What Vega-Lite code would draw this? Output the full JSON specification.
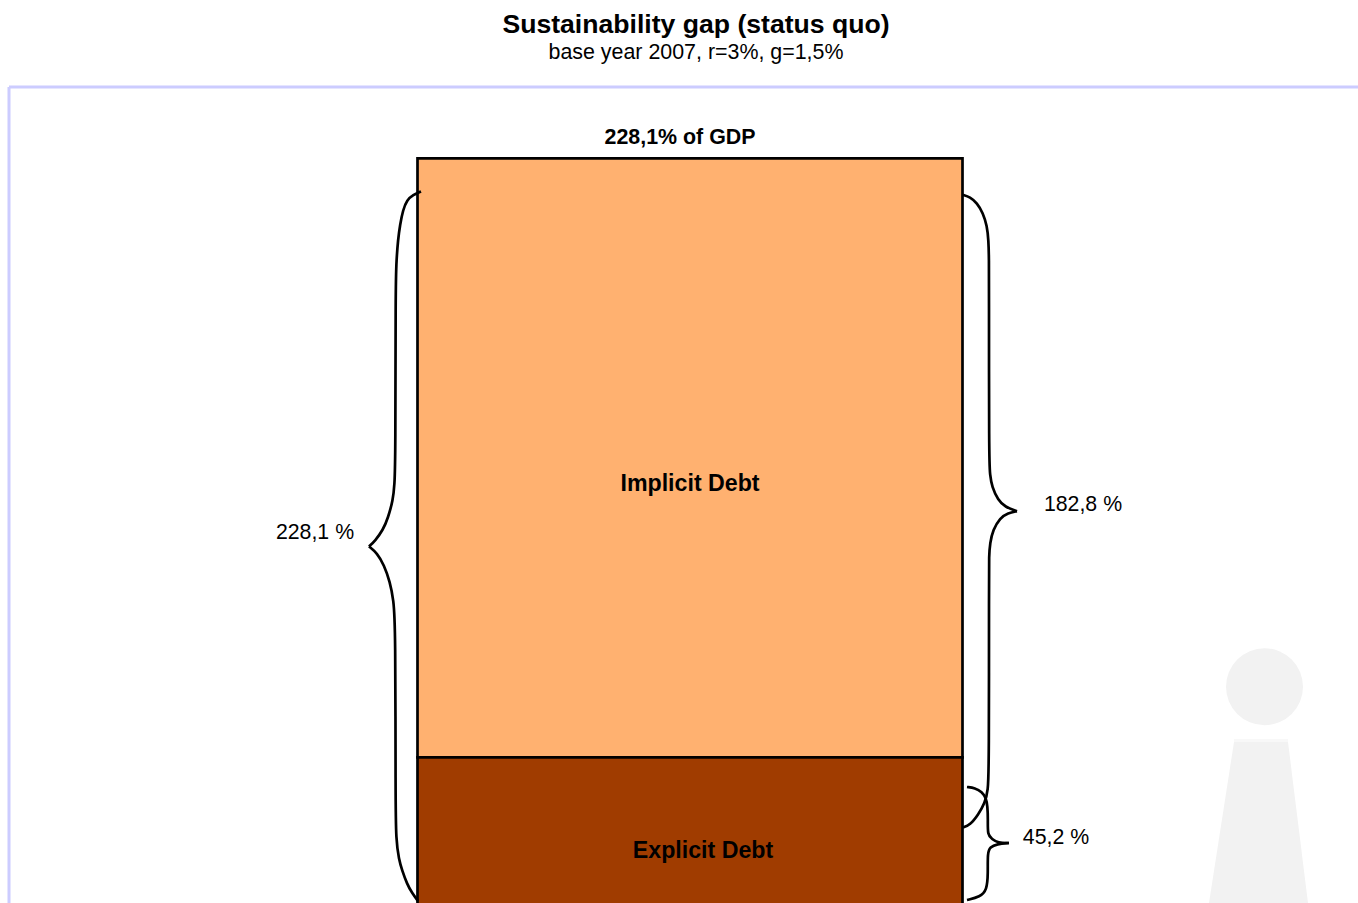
{
"$schema":"https://vega.github.io/schema/vega-lite/v6.json",
"width":1349,"height":816,
"autosize":{"type":"none"},
"padding":{"left":9,"top":87,"right":0,"bottom":0},
"background":"white",
"config":{"view":{"stroke":null},"font":"Liberation Sans"},
"title":{"text":"Sustainability gap (status quo)","subtitle":"base year 2007, r=3%, g=1,5%","anchor":"middle","frame":"group","dx":12.5,"offset":22,"font":"Liberation Sans","fontSize":26.6,"fontWeight":"bold","color":"black","subtitleFont":"Liberation Sans","subtitleFontSize":21.4,"subtitleColor":"black","subtitlePadding":4},
"datasets":{
"debt":[{"name":"Implicit Debt","from":45.2,"to":228.1},{"name":"Explicit Debt","from":0,"to":45.2}],
"band":[{"v":50.8,"x0":1234,"x1":1288},{"v":49.9,"x0":1234,"x1":1288}],
"mark":[{"v":49.9,"x0":1234,"x1":1288},{"v":0.76,"x0":1209,"x1":1308}],
"labels":[
{"label":"228,1 %","x":315,"y":113.75,"w":"normal"},
{"label":"182,8 %","x":1083,"y":122.3,"w":"normal"},
{"label":"45,2 %","x":1056,"y":20.62,"w":"normal"},
{"label":"Implicit Debt","x":690,"y":128.7,"w":"large"},
{"label":"Explicit Debt","x":703,"y":16.65,"w":"large"},
{"label":"228,1% of GDP","x":680,"y":234.36,"w":"bold"}],
"brace":[
{"s":"a","o":1,"x":421,"y":218.02},{"s":"a","o":2,"x":413,"y":216.95},{"s":"a","o":3,"x":407,"y":215.42},{"s":"a","o":4,"x":403,"y":212.37},{"s":"a","o":5,"x":400,"y":207.79},{"s":"a","o":6,"x":398,"y":203.21},{"s":"a","o":7,"x":396.5,"y":197.1},{"s":"a","o":8,"x":395.5,"y":189.47},{"s":"a","o":9,"x":395.5,"y":136.03},{"s":"a","o":10,"x":394.5,"y":128.4},{"s":"a","o":11,"x":393,"y":123.82},{"s":"a","o":12,"x":388,"y":118.32},{"s":"a","o":13,"x":383,"y":114.66},{"s":"a","o":14,"x":375,"y":111.3},{"s":"a","o":15,"x":369,"y":109.62},
{"s":"b","o":1,"x":369,"y":109.62},{"s":"b","o":2,"x":377,"y":107.63},{"s":"b","o":3,"x":384,"y":103.97},{"s":"b","o":4,"x":390,"y":98.78},{"s":"b","o":5,"x":393.5,"y":93.28},{"s":"b","o":6,"x":395.5,"y":85.65},{"s":"b","o":7,"x":395.5,"y":32.21},{"s":"b","o":8,"x":396,"y":20.0},{"s":"b","o":9,"x":399,"y":13.89},{"s":"b","o":10,"x":402,"y":10.84},{"s":"b","o":11,"x":407,"y":6.56},{"s":"b","o":12,"x":412,"y":3.82},{"s":"b","o":13,"x":418,"y":1.37},
{"s":"c","o":1,"x":963,"y":216.95},{"s":"c","o":2,"x":970,"y":216.34},{"s":"c","o":3,"x":977,"y":214.5},{"s":"c","o":4,"x":983,"y":211.45},{"s":"c","o":5,"x":987,"y":207.48},{"s":"c","o":6,"x":988.5,"y":203.21},{"s":"c","o":7,"x":989,"y":197.1},{"s":"c","o":8,"x":989,"y":189.47},{"s":"c","o":9,"x":989,"y":136.03},{"s":"c","o":10,"x":990,"y":131.45},{"s":"c","o":11,"x":992,"y":127.79},{"s":"c","o":12,"x":998,"y":123.82},{"s":"c","o":13,"x":1005,"y":121.68},{"s":"c","o":14,"x":1017,"y":120.37},
{"s":"d","o":1,"x":1017,"y":120.37},{"s":"d","o":2,"x":1008,"y":119.85},{"s":"d","o":3,"x":1000,"y":118.32},{"s":"d","o":4,"x":993,"y":114.66},{"s":"d","o":5,"x":990,"y":110.69},{"s":"d","o":6,"x":989,"y":106.41},{"s":"d","o":7,"x":989,"y":100.92},{"s":"d","o":8,"x":989,"y":41.37},{"s":"d","o":9,"x":988,"y":35.27},{"s":"d","o":10,"x":985,"y":31.3},{"s":"d","o":11,"x":978,"y":27.63},{"s":"d","o":12,"x":970,"y":24.58},{"s":"d","o":13,"x":963,"y":23.82},
{"s":"e","o":1,"x":967,"y":36.18},{"s":"e","o":2,"x":975,"y":35.88},{"s":"e","o":3,"x":982,"y":34.66},{"s":"e","o":4,"x":986,"y":32.82},{"s":"e","o":5,"x":987.5,"y":30.38},{"s":"e","o":6,"x":988,"y":26.11},{"s":"e","o":7,"x":987.5,"y":21.53},{"s":"e","o":8,"x":992,"y":20.31},{"s":"e","o":9,"x":998,"y":19.08},{"s":"e","o":10,"x":1009,"y":19.08},
{"s":"f","o":1,"x":1009,"y":19.08},{"s":"f","o":2,"x":997,"y":18.78},{"s":"f","o":3,"x":990,"y":17.86},{"s":"f","o":4,"x":987.5,"y":16.03},{"s":"f","o":5,"x":988,"y":9.92},{"s":"f","o":6,"x":987,"y":4.73},{"s":"f","o":7,"x":980,"y":2.6},{"s":"f","o":8,"x":967,"y":1.68}
]},
"encoding":{},
"layer":[
{"data":{"values":[{"v":1}]},"mark":{"type":"rule","stroke":"#CCCCFF","strokeWidth":3},"encoding":{"y":{"datum":249.9,"type":"quantitative","scale":{"domain":[0.76,249.9],"nice":false,"zero":false},"axis":null},"x":{"datum":9,"type":"quantitative","scale":{"domain":[9,1358],"nice":false,"zero":false},"axis":null},"x2":{"datum":1358}}},
{"data":{"values":[{"v":1}]},"mark":{"type":"rule","stroke":"#CCCCFF","strokeWidth":3},"encoding":{"x":{"datum":9,"type":"quantitative"},"y":{"datum":249.9,"type":"quantitative"},"y2":{"datum":0.76}}},
{"data":{"values":[{"v":1}]},"mark":{"type":"point","filled":true,"fill":"#F2F2F2","opacity":1,"shape":"circle","size":5929,"stroke":null},"encoding":{"x":{"datum":1264.5,"type":"quantitative"},"y":{"datum":66.8,"type":"quantitative"}}},
{"data":{"name":"band"},"mark":{"type":"area","orient":"horizontal","fill":"#F8F8F8","clip":true},"encoding":{"y":{"field":"v","type":"quantitative"},"x":{"field":"x0","type":"quantitative"},"x2":{"field":"x1"}}},
{"data":{"name":"mark"},"mark":{"type":"area","orient":"horizontal","fill":"#F2F2F2","clip":true},"encoding":{"y":{"field":"v","type":"quantitative"},"x":{"field":"x0","type":"quantitative"},"x2":{"field":"x1"}}},
{"data":{"name":"debt"},"mark":{"type":"rect","stroke":"black","strokeWidth":2.7,"clip":true},"encoding":{"x":{"datum":417.5,"type":"quantitative"},"x2":{"datum":962.5},"y":{"field":"from","type":"quantitative"},"y2":{"field":"to"},"fill":{"field":"name","type":"nominal","scale":{"domain":["Implicit Debt","Explicit Debt"],"range":["#FFB170","#A03C00"]},"legend":null}}},
{"data":{"name":"brace"},"mark":{"type":"line","stroke":"black","strokeWidth":2.7,"interpolate":"basis","clip":true},"encoding":{"x":{"field":"x","type":"quantitative"},"y":{"field":"y","type":"quantitative"},"detail":{"field":"s"},"order":{"field":"o","type":"quantitative"}}},
{"data":{"name":"labels"},"transform":[{"filter":"datum.w=='normal'"}],"mark":{"type":"text","font":"Liberation Sans","fontSize":21.3,"color":"black","baseline":"middle","align":"center"},"encoding":{"x":{"field":"x","type":"quantitative"},"y":{"field":"y","type":"quantitative"},"text":{"field":"label"}}},
{"data":{"name":"labels"},"transform":[{"filter":"datum.w=='bold'"}],"mark":{"type":"text","font":"Liberation Sans","fontSize":21.4,"fontWeight":"bold","color":"black","baseline":"middle","align":"center"},"encoding":{"x":{"field":"x","type":"quantitative"},"y":{"field":"y","type":"quantitative"},"text":{"field":"label"}}},
{"data":{"name":"labels"},"transform":[{"filter":"datum.w=='large'"}],"mark":{"type":"text","font":"Liberation Sans","fontSize":23.2,"fontWeight":"bold","color":"black","baseline":"middle","align":"center"},"encoding":{"x":{"field":"x","type":"quantitative"},"y":{"field":"y","type":"quantitative"},"text":{"field":"label"}}}
],
"resolve":{"scale":{"x":"shared","y":"shared"}}
}
